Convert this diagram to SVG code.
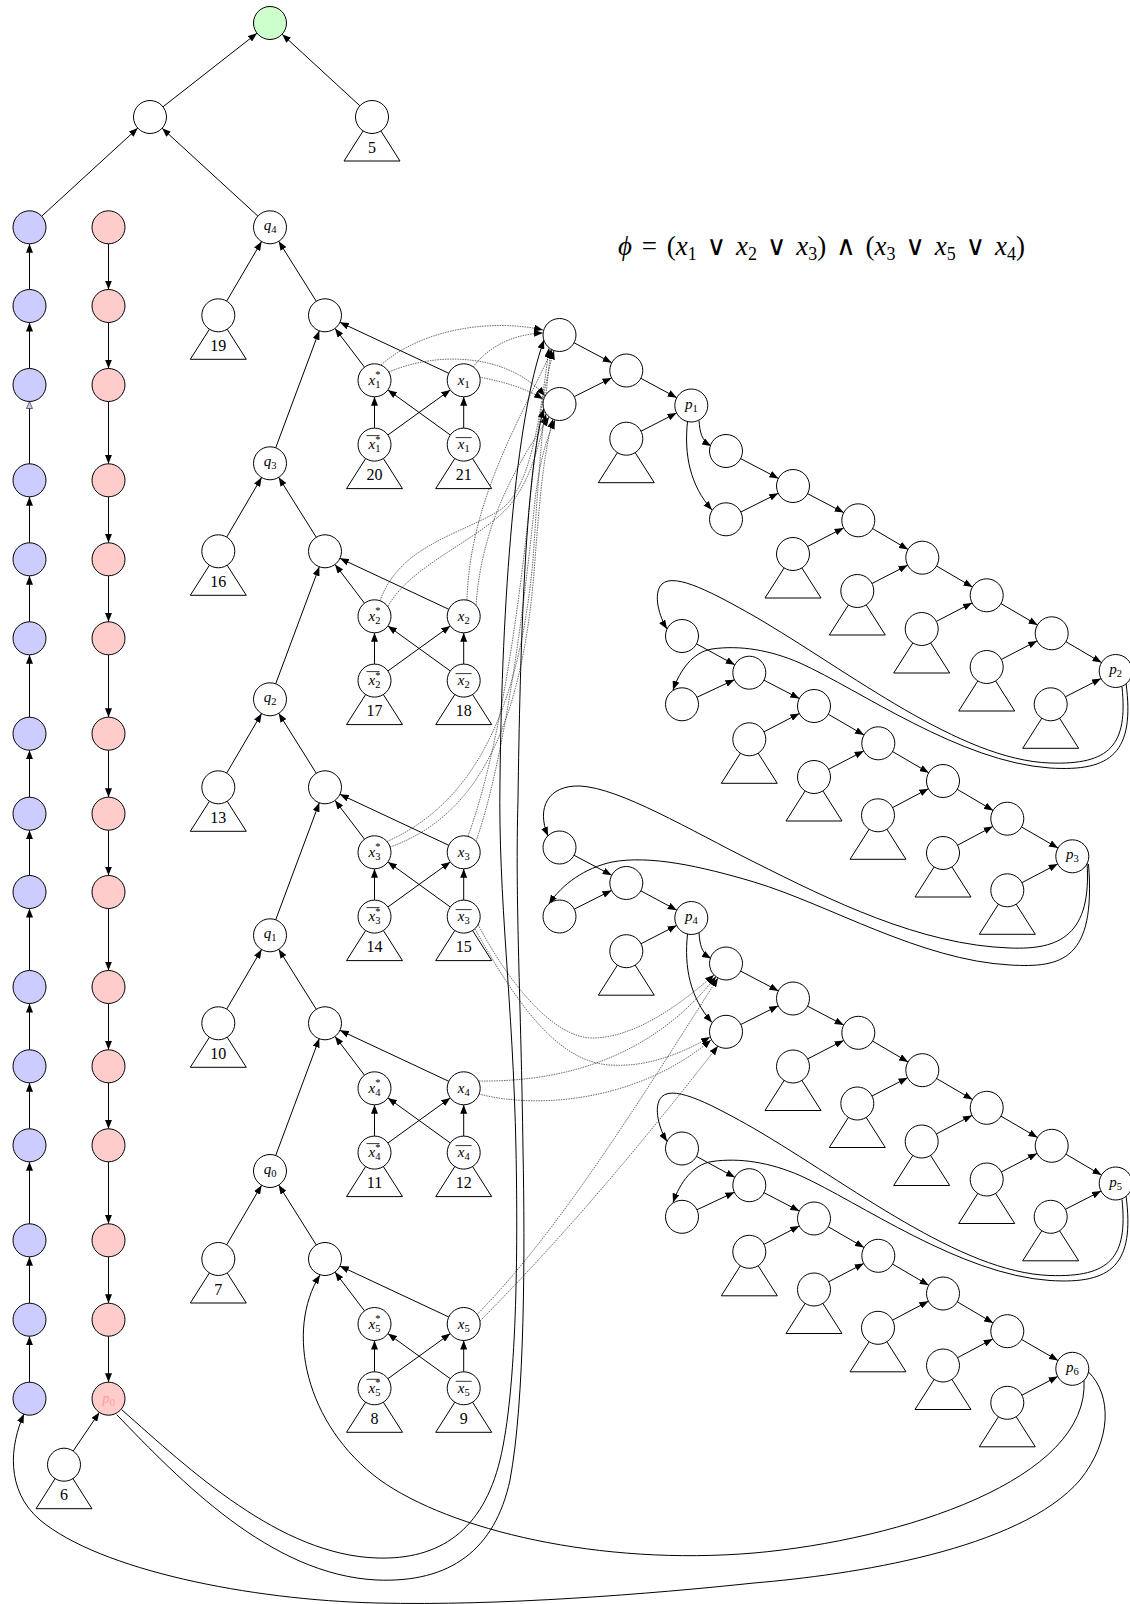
<svg xmlns="http://www.w3.org/2000/svg" width="1130" height="1604" viewBox="0 0 1130 1604">
<defs>
<marker id="ah" viewBox="0 0 9 7" refX="9" refY="3.5" markerWidth="9" markerHeight="7" markerUnits="userSpaceOnUse" orient="auto"><path d="M0,0 L9,3.5 L0,7 z" fill="#000"/></marker>
<marker id="ahb" viewBox="0 0 8 7" refX="7.5" refY="3.5" markerWidth="8" markerHeight="7" markerUnits="userSpaceOnUse" orient="auto"><path d="M0.5,0.5 L7.5,3.5 L0.5,6.5 z" fill="#ccccff" stroke="#333" stroke-width="0.7"/></marker>
<style>
.n circle{fill:#fff;stroke:#000;stroke-width:1}
.n polygon{fill:#fff;stroke:#000;stroke-width:1}
.bl circle{fill:#ccccff}
.rd circle{fill:#ffcccc}
.gr circle{fill:#ccffcc}
.e{fill:none;stroke:#000;stroke-width:1;marker-end:url(#ah)}
.d{fill:none;stroke:#444;stroke-width:0.8;stroke-dasharray:1.5 1;marker-end:url(#ah)}
text{font-family:"Liberation Serif","DejaVu Serif",serif}
.num{font-size:16px;text-anchor:middle}
.v{font-size:15px;font-style:italic;text-anchor:middle}
.s{font-size:10.5px;font-style:normal}
.ol{stroke:#000;stroke-width:0.8}
</style>
</defs>
<rect width="1130" height="1604" fill="#fff"/>
<g id="connectors">
<line class="e" x1="163" y1="106.8" x2="257" y2="33.2"/>
<line class="e" x1="359.9" y1="105.8" x2="282.1" y2="34.2"/>
<line class="e" x1="41.7" y1="216.2" x2="137.8" y2="128.1"/>
<line class="e" x1="257.9" y1="216.1" x2="162.1" y2="128.2"/>
<g id="blue-edges">
<line class="e" x1="29.5" y1="289.5" x2="29.5" y2="243.8"/>
<line class="e" x1="29.5" y1="368.5" x2="29.5" y2="322.5"/>
<line class="e" x1="29.5" y1="463.8" x2="29.5" y2="401.5" style="marker-end:url(#ahb)"/>
<line class="e" x1="29.5" y1="542.8" x2="29.5" y2="496.8"/>
<line class="e" x1="29.5" y1="621.8" x2="29.5" y2="575.8"/>
<line class="e" x1="29.5" y1="717.2" x2="29.5" y2="654.8"/>
<line class="e" x1="29.5" y1="797.2" x2="29.5" y2="750.2"/>
<line class="e" x1="29.5" y1="875.5" x2="29.5" y2="830.2"/>
<line class="e" x1="29.5" y1="970.5" x2="29.5" y2="908.5"/>
<line class="e" x1="29.5" y1="1049.8" x2="29.5" y2="1003.5"/>
<line class="e" x1="29.5" y1="1128.8" x2="29.5" y2="1082.8"/>
<line class="e" x1="29.5" y1="1223.8" x2="29.5" y2="1161.8"/>
<line class="e" x1="29.5" y1="1303.2" x2="29.5" y2="1256.8"/>
<line class="e" x1="29.5" y1="1382.2" x2="29.5" y2="1336.2"/>
</g>
<g id="red-edges">
<line class="e" x1="108.5" y1="243.8" x2="108.5" y2="289.5"/>
<line class="e" x1="108.5" y1="322.5" x2="108.5" y2="368.5"/>
<line class="e" x1="108.5" y1="401.5" x2="108.5" y2="463.8"/>
<line class="e" x1="108.5" y1="496.8" x2="108.5" y2="542.8"/>
<line class="e" x1="108.5" y1="575.8" x2="108.5" y2="621.8"/>
<line class="e" x1="108.5" y1="654.8" x2="108.5" y2="717.2"/>
<line class="e" x1="108.5" y1="750.2" x2="108.5" y2="797.2"/>
<line class="e" x1="108.5" y1="830.2" x2="108.5" y2="875.5"/>
<line class="e" x1="108.5" y1="908.5" x2="108.5" y2="970.5"/>
<line class="e" x1="108.5" y1="1003.5" x2="108.5" y2="1049.8"/>
<line class="e" x1="108.5" y1="1082.8" x2="108.5" y2="1128.8"/>
<line class="e" x1="108.5" y1="1161.8" x2="108.5" y2="1223.8"/>
<line class="e" x1="108.5" y1="1256.8" x2="108.5" y2="1303.2"/>
<line class="e" x1="108.5" y1="1336.2" x2="108.5" y2="1382.2"/>
<line class="e" x1="73.2" y1="1451" x2="99.3" y2="1412.4"/>
</g>
<g id="q-edges">
<g transform="translate(0,227.3)"><line class="e" x1="226.7" y1="73.8" x2="261.6" y2="14.2"/><line class="e" x1="316.3" y1="74" x2="278.7" y2="14"/></g>
<g transform="translate(0,463.3)"><line class="e" x1="226.7" y1="73.8" x2="261.6" y2="14.2"/><line class="e" x1="316.3" y1="74" x2="278.7" y2="14"/><line class="e" x1="275.7" y1="-15.5" x2="319.3" y2="-132.5"/></g>
<g transform="translate(0,699.3)"><line class="e" x1="226.7" y1="73.8" x2="261.6" y2="14.2"/><line class="e" x1="316.3" y1="74" x2="278.7" y2="14"/><line class="e" x1="275.7" y1="-15.5" x2="319.3" y2="-132.5"/></g>
<g transform="translate(0,935.3)"><line class="e" x1="226.7" y1="73.8" x2="261.6" y2="14.2"/><line class="e" x1="316.3" y1="74" x2="278.7" y2="14"/><line class="e" x1="275.7" y1="-15.5" x2="319.3" y2="-132.5"/></g>
<g transform="translate(0,1171)"><line class="e" x1="226.7" y1="73.8" x2="261.6" y2="14.2"/><line class="e" x1="316.3" y1="74" x2="278.7" y2="14"/><line class="e" x1="275.7" y1="-15.5" x2="319.3" y2="-132.5"/></g>
</g>
<g id="literal-edges">
<g transform="translate(0,315.3)"><line class="e" x1="364.5" y1="51.9" x2="335" y2="13.1"/><line class="e" x1="448.8" y1="58" x2="339.9" y2="7"/><line class="e" x1="374.5" y1="112.8" x2="374.5" y2="81.5"/><line class="e" x1="463.7" y1="112.8" x2="463.7" y2="81.5"/><line class="e" x1="387.9" y1="119.7" x2="450.3" y2="74.6"/><line class="e" x1="450.3" y1="119.7" x2="387.9" y2="74.6"/></g>
<g transform="translate(0,551.3)"><line class="e" x1="364.5" y1="51.9" x2="335" y2="13.1"/><line class="e" x1="448.8" y1="58" x2="339.9" y2="7"/><line class="e" x1="374.5" y1="112.8" x2="374.5" y2="81.5"/><line class="e" x1="463.7" y1="112.8" x2="463.7" y2="81.5"/><line class="e" x1="387.9" y1="119.7" x2="450.3" y2="74.6"/><line class="e" x1="450.3" y1="119.7" x2="387.9" y2="74.6"/></g>
<g transform="translate(0,787.3)"><line class="e" x1="364.5" y1="51.9" x2="335" y2="13.1"/><line class="e" x1="448.8" y1="58" x2="339.9" y2="7"/><line class="e" x1="374.5" y1="112.8" x2="374.5" y2="81.5"/><line class="e" x1="463.7" y1="112.8" x2="463.7" y2="81.5"/><line class="e" x1="387.9" y1="119.7" x2="450.3" y2="74.6"/><line class="e" x1="450.3" y1="119.7" x2="387.9" y2="74.6"/></g>
<g transform="translate(0,1023.3)"><line class="e" x1="364.5" y1="51.9" x2="335" y2="13.1"/><line class="e" x1="448.8" y1="58" x2="339.9" y2="7"/><line class="e" x1="374.5" y1="112.8" x2="374.5" y2="81.5"/><line class="e" x1="463.7" y1="112.8" x2="463.7" y2="81.5"/><line class="e" x1="387.9" y1="119.7" x2="450.3" y2="74.6"/><line class="e" x1="450.3" y1="119.7" x2="387.9" y2="74.6"/></g>
<g transform="translate(0,1259)"><line class="e" x1="364.5" y1="51.9" x2="335" y2="13.1"/><line class="e" x1="448.8" y1="58" x2="339.9" y2="7"/><line class="e" x1="374.5" y1="112.8" x2="374.5" y2="81.5"/><line class="e" x1="463.7" y1="112.8" x2="463.7" y2="81.5"/><line class="e" x1="387.9" y1="119.7" x2="450.3" y2="74.6"/><line class="e" x1="450.3" y1="119.7" x2="387.9" y2="74.6"/></g>
</g>
<g id="clause1-edges">
<path class="d" d="M381,365 C420,330 490,318 543,330"/>
<path class="d" d="M389,372 C440,350 510,355 545,396"/>
<path class="d" d="M473,367 C490,345 515,334 543,333"/>
<path class="d" d="M479,377 C505,382 525,388 543,399"/>
<path class="d" d="M380,600.8 C400,545 460,535 500,510 C530,490 540,420 549,348"/>
<path class="d" d="M388,606.5 C410,565 480,540 510,505 C530,480 538,450 546,414"/>
<path class="d" d="M467,600 C470,500 520,420 552,350"/>
<path class="d" d="M476,605 C482,520 520,460 549,417"/>
<path class="d" d="M387,841.5 C480,800 520,700 533,560 C540,450 545,400 551,349.5"/>
<path class="d" d="M390,847 C490,812 525,700 535,560 C541,480 545,450 553,419"/>
<path class="d" d="M468,836 C500,750 520,600 530,500 C537,430 545,380 554,350.5"/>
<path class="d" d="M476,841 C505,760 525,600 535,500 C540,460 546,440 555,420"/>
</g>
<g id="clause2-edges">
<path class="d" d="M478,924.5 C510,985 555,1040 595,1038 C640,1036 685,1000 714,975"/>
<path class="d" d="M475,929 C520,1010 560,1062 610,1065 C650,1068 688,1050 710,1037"/>
<path class="d" d="M479,1081 C560,1082 650,1060 716,976.5"/>
<path class="d" d="M479,1094 C540,1110 640,1100 711,1040"/>
<path class="d" d="M477,1314.5 C560,1230 640,1100 718,978"/>
<path class="d" d="M480,1321 C580,1220 660,1120 718,1046"/>
</g>
<g id="blockA-edges">
<line class="e" x1="574.1" y1="342.8" x2="611.7" y2="362.7"/>
<line class="e" x1="574.3" y1="396.6" x2="611.5" y2="377.9"/>
<line class="e" x1="640.8" y1="378.3" x2="676.8" y2="397.7"/>
<line class="e" x1="641" y1="431.2" x2="676.6" y2="413"/>
<path class="e" d="M699,420.5 C700,432 701,440 711,446"/>
<path class="e" d="M687.5,421.5 C684,455 690,485 712,510"/>
<line class="e" x1="740.6" y1="458.6" x2="778.4" y2="478.4"/>
<line class="e" x1="740.8" y1="512" x2="778.2" y2="493.3"/>
<line class="e" x1="807.6" y1="493.7" x2="843.7" y2="512.6"/>
<line class="e" x1="872.6" y1="528.6" x2="908" y2="549.4"/>
<line class="e" x1="936.5" y1="566" x2="972.5" y2="587"/>
<line class="e" x1="1000.9" y1="603.6" x2="1037.5" y2="625"/>
<line class="e" x1="1065.9" y1="641.7" x2="1101.5" y2="662.6"/>
<line class="e" x1="807.7" y1="546.4" x2="843.6" y2="527.9"/>
<line class="e" x1="872" y1="583.5" x2="907.6" y2="565.2"/>
<line class="e" x1="936.4" y1="621.4" x2="972" y2="602.9"/>
<line class="e" x1="1001.4" y1="659.4" x2="1037" y2="640.9"/>
<line class="e" x1="1065.4" y1="696.8" x2="1101" y2="678.6"/>
<path class="e" d="M1122,687 C1128,745 1110,765 1050,763 C960,760 850,672 754,616 C715,594 675,572 662,584 C652,594 660,618 667,629"/>
<path class="e" d="M1126,683 C1135,752 1112,772 1050,768 C960,762 860,690 800,663 C770,650 740,645 712,649 C693,652 680,670 673,690"/>
</g>
<g id="blockB-edges">
<line class="e" x1="696.5" y1="643.9" x2="734.8" y2="664.8"/>
<line class="e" x1="696.9" y1="697.3" x2="734.4" y2="679.7"/>
<line class="e" x1="764" y1="680.2" x2="799.3" y2="698.5"/>
<line class="e" x1="828.3" y1="714.3" x2="864" y2="735"/>
<line class="e" x1="892.6" y1="751.6" x2="928.7" y2="772.7"/>
<line class="e" x1="957.2" y1="789.3" x2="993.1" y2="810.4"/>
<line class="e" x1="1021.6" y1="827" x2="1058" y2="848"/>
<line class="e" x1="764" y1="731.8" x2="799.3" y2="713.5"/>
<line class="e" x1="828.6" y1="769.3" x2="863.7" y2="751"/>
<line class="e" x1="892.6" y1="807.6" x2="928.4" y2="788.7"/>
<line class="e" x1="957.6" y1="845.2" x2="992.7" y2="826.5"/>
<line class="e" x1="1021.9" y1="882.7" x2="1057.7" y2="863.9"/>
<path class="e" d="M1087,862 C1092,935 1060,950 1010,948 C920,945 830,900 754,862 C690,830 620,788 580,786 C548,785 536,808 548,836"/>
<path class="e" d="M1088.5,864 C1096,960 1062,968 1010,965 C920,960 830,905 754,882 C700,866 650,855 612,862 C585,868 562,884 549,904"/>
</g>
<g id="blockC-edges" transform="translate(0,512.5)">
<line class="e" x1="574.1" y1="342.8" x2="611.7" y2="362.7"/>
<line class="e" x1="574.3" y1="396.6" x2="611.5" y2="377.9"/>
<line class="e" x1="640.8" y1="378.3" x2="676.8" y2="397.7"/>
<line class="e" x1="641" y1="431.2" x2="676.6" y2="413"/>
<path class="e" d="M699,420.5 C700,432 701,440 711,446"/>
<path class="e" d="M687.5,421.5 C684,455 690,485 712,510"/>
<line class="e" x1="740.6" y1="458.6" x2="778.4" y2="478.4"/>
<line class="e" x1="740.8" y1="512" x2="778.2" y2="493.3"/>
<line class="e" x1="807.6" y1="493.7" x2="843.7" y2="512.6"/>
<line class="e" x1="872.6" y1="528.6" x2="908" y2="549.4"/>
<line class="e" x1="936.5" y1="566" x2="972.5" y2="587"/>
<line class="e" x1="1000.9" y1="603.6" x2="1037.5" y2="625"/>
<line class="e" x1="1065.9" y1="641.7" x2="1101.5" y2="662.6"/>
<line class="e" x1="807.7" y1="546.4" x2="843.6" y2="527.9"/>
<line class="e" x1="872" y1="583.5" x2="907.6" y2="565.2"/>
<line class="e" x1="936.4" y1="621.4" x2="972" y2="602.9"/>
<line class="e" x1="1001.4" y1="659.4" x2="1037" y2="640.9"/>
<line class="e" x1="1065.4" y1="696.8" x2="1101" y2="678.6"/>
<path class="e" d="M1122,687 C1128,745 1110,765 1050,763 C960,760 850,672 754,616 C715,594 675,572 662,584 C652,594 660,618 667,629"/>
<path class="e" d="M1126,683 C1135,752 1112,772 1050,768 C960,762 860,690 800,663 C770,650 740,645 712,649 C693,652 680,670 673,690"/>
</g>
<g id="blockD-edges" transform="translate(0,512.5)">
<line class="e" x1="696.5" y1="643.9" x2="734.8" y2="664.8"/>
<line class="e" x1="696.9" y1="697.3" x2="734.4" y2="679.7"/>
<line class="e" x1="764" y1="680.2" x2="799.3" y2="698.5"/>
<line class="e" x1="828.3" y1="714.3" x2="864" y2="735"/>
<line class="e" x1="892.6" y1="751.6" x2="928.7" y2="772.7"/>
<line class="e" x1="957.2" y1="789.3" x2="993.1" y2="810.4"/>
<line class="e" x1="1021.6" y1="827" x2="1058" y2="848"/>
<line class="e" x1="764" y1="731.8" x2="799.3" y2="713.5"/>
<line class="e" x1="828.6" y1="769.3" x2="863.7" y2="751"/>
<line class="e" x1="892.6" y1="807.6" x2="928.4" y2="788.7"/>
<line class="e" x1="957.6" y1="845.2" x2="992.7" y2="826.5"/>
<line class="e" x1="1021.9" y1="882.7" x2="1057.7" y2="863.9"/>
</g>
<g id="long-edges">
<path class="e" d="M1084,1380 C1090,1480 900,1540 754,1553 C600,1566 450,1530 380,1480 C305,1425 285,1330 320,1275"/>
<path class="e" d="M1088.5,1372 C1112,1395 1112,1440 1080,1480 C1020,1550 850,1575 754,1583 C650,1594 500,1606 377,1603 C250,1600 100,1570 40,1520 C5,1490 10,1445 24,1414"/>
<path class="e" d="M121.7,1409.7 C190,1470 280,1555 377,1558 C440,1560 483,1530 500,1460 C517,1390 518,1250 516,1150 C513,1000 498,900 500,780 C502,600 515,420 544,340"/>
<path class="e" d="M116.7,1414.7 C180,1480 270,1575 377,1580 C450,1583 495,1550 510,1480 C525,1400 525,1250 523,1150 C521,1000 515,900 518,800 C520,650 525,480 543.5,409"/>
</g>
</g>
<g id="nodes">
<g id="root" class="n gr" transform="translate(270,23)"><circle r="16.5"/></g>
<g id="a" class="n" transform="translate(150,117)"><circle r="16.5"/></g>
<g id="t5" class="n" transform="translate(372,117)"><polygon points="0,0 -28,44 28,44"/><circle r="16.5"/><text class="num" y="35.5">5</text></g>
<g id="b1" class="n bl" transform="translate(29.5,227.3)"><circle r="16.5"/></g>
<g id="b2" class="n bl" transform="translate(29.5,306)"><circle r="16.5"/></g>
<g id="b3" class="n bl" transform="translate(29.5,385)"><circle r="16.5"/></g>
<g id="b4" class="n bl" transform="translate(29.5,480.3)"><circle r="16.5"/></g>
<g id="b5" class="n bl" transform="translate(29.5,559.3)"><circle r="16.5"/></g>
<g id="b6" class="n bl" transform="translate(29.5,638.3)"><circle r="16.5"/></g>
<g id="b7" class="n bl" transform="translate(29.5,733.7)"><circle r="16.5"/></g>
<g id="b8" class="n bl" transform="translate(29.5,813.7)"><circle r="16.5"/></g>
<g id="b9" class="n bl" transform="translate(29.5,892)"><circle r="16.5"/></g>
<g id="b10" class="n bl" transform="translate(29.5,987)"><circle r="16.5"/></g>
<g id="b11" class="n bl" transform="translate(29.5,1066.3)"><circle r="16.5"/></g>
<g id="b12" class="n bl" transform="translate(29.5,1145.3)"><circle r="16.5"/></g>
<g id="b13" class="n bl" transform="translate(29.5,1240.3)"><circle r="16.5"/></g>
<g id="b14" class="n bl" transform="translate(29.5,1319.7)"><circle r="16.5"/></g>
<g id="b15" class="n bl" transform="translate(29.5,1398.7)"><circle r="16.5"/></g>
<g id="r1" class="n rd" transform="translate(108.5,227.3)"><circle r="16.5"/></g>
<g id="r2" class="n rd" transform="translate(108.5,306)"><circle r="16.5"/></g>
<g id="r3" class="n rd" transform="translate(108.5,385)"><circle r="16.5"/></g>
<g id="r4" class="n rd" transform="translate(108.5,480.3)"><circle r="16.5"/></g>
<g id="r5" class="n rd" transform="translate(108.5,559.3)"><circle r="16.5"/></g>
<g id="r6" class="n rd" transform="translate(108.5,638.3)"><circle r="16.5"/></g>
<g id="r7" class="n rd" transform="translate(108.5,733.7)"><circle r="16.5"/></g>
<g id="r8" class="n rd" transform="translate(108.5,813.7)"><circle r="16.5"/></g>
<g id="r9" class="n rd" transform="translate(108.5,892)"><circle r="16.5"/></g>
<g id="r10" class="n rd" transform="translate(108.5,987)"><circle r="16.5"/></g>
<g id="r11" class="n rd" transform="translate(108.5,1066.3)"><circle r="16.5"/></g>
<g id="r12" class="n rd" transform="translate(108.5,1145.3)"><circle r="16.5"/></g>
<g id="r13" class="n rd" transform="translate(108.5,1240.3)"><circle r="16.5"/></g>
<g id="r14" class="n rd" transform="translate(108.5,1319.7)"><circle r="16.5"/></g>
<g id="p0" class="n rd" transform="translate(108.5,1398.7)"><circle r="16.5"/><text class="v" y="4" fill="#ff9c9c">p<tspan class="s" dy="3">0</tspan></text></g>
<g id="t6" class="n" transform="translate(64,1464.7)"><polygon points="0,0 -28,44 28,44"/><circle r="16.5"/><text class="num" y="35.5">6</text></g>
<g id="q4" class="n" transform="translate(270,227.3)"><circle r="16.5"/><text class="v" y="3">q<tspan class="s" dy="3">4</tspan></text></g>
<g id="q3" class="n" transform="translate(270,463.3)"><circle r="16.5"/><text class="v" y="3">q<tspan class="s" dy="3">3</tspan></text></g>
<g id="q2" class="n" transform="translate(270,699.3)"><circle r="16.5"/><text class="v" y="3">q<tspan class="s" dy="3">2</tspan></text></g>
<g id="q1" class="n" transform="translate(270,935.3)"><circle r="16.5"/><text class="v" y="3">q<tspan class="s" dy="3">1</tspan></text></g>
<g id="q0" class="n" transform="translate(270,1171)"><circle r="16.5"/><text class="v" y="3">q<tspan class="s" dy="3">0</tspan></text></g>
<g id="t19" class="n" transform="translate(218.3,315.3)"><polygon points="0,0 -28,44 28,44"/><circle r="16.5"/><text class="num" y="35.5">19</text></g>
<g id="t16" class="n" transform="translate(218.3,551.3)"><polygon points="0,0 -28,44 28,44"/><circle r="16.5"/><text class="num" y="35.5">16</text></g>
<g id="t13" class="n" transform="translate(218.3,787.3)"><polygon points="0,0 -28,44 28,44"/><circle r="16.5"/><text class="num" y="35.5">13</text></g>
<g id="t10" class="n" transform="translate(218.3,1023.3)"><polygon points="0,0 -28,44 28,44"/><circle r="16.5"/><text class="num" y="35.5">10</text></g>
<g id="t7" class="n" transform="translate(218.3,1259)"><polygon points="0,0 -28,44 28,44"/><circle r="16.5"/><text class="num" y="35.5">7</text></g>
<g id="g4" class="n" transform="translate(325,315.3)"><circle r="16.5"/></g>
<g id="g3" class="n" transform="translate(325,551.3)"><circle r="16.5"/></g>
<g id="g2" class="n" transform="translate(325,787.3)"><circle r="16.5"/></g>
<g id="g1" class="n" transform="translate(325,1023.3)"><circle r="16.5"/></g>
<g id="g0" class="n" transform="translate(325,1259)"><circle r="16.5"/></g>
<g id="x1s" class="n" transform="translate(374.5,380.3)"><circle r="16.5"/><text class="v" y="4.5">x<tspan class="s" dy="3">1</tspan><tspan class="s" dx="-5.3" dy="-9.5">*</tspan></text></g>
<g id="x1" class="n" transform="translate(463.7,380.3)"><circle r="16.5"/><text class="v" y="4.5">x<tspan class="s" dy="3">1</tspan></text></g>
<g id="x1bs" class="n" transform="translate(374.5,444.6)"><polygon points="0,0 -28,44 28,44"/><circle r="16.5"/><line class="ol" x1="-8" y1="-9" x2="5" y2="-9"/><text class="v" y="4.5">x<tspan class="s" dy="3">1</tspan><tspan class="s" dx="-5.3" dy="-9.5">*</tspan></text><text class="num" y="35.5">20</text></g>
<g id="x1b" class="n" transform="translate(463.7,444.6)"><polygon points="0,0 -28,44 28,44"/><circle r="16.5"/><line class="ol" x1="-8" y1="-7" x2="8" y2="-7"/><text class="v" y="4.5">x<tspan class="s" dy="3">1</tspan></text><text class="num" y="35.5">21</text></g>
<g id="x2s" class="n" transform="translate(374.5,616.3)"><circle r="16.5"/><text class="v" y="4.5">x<tspan class="s" dy="3">2</tspan><tspan class="s" dx="-5.3" dy="-9.5">*</tspan></text></g>
<g id="x2" class="n" transform="translate(463.7,616.3)"><circle r="16.5"/><text class="v" y="4.5">x<tspan class="s" dy="3">2</tspan></text></g>
<g id="x2bs" class="n" transform="translate(374.5,680.6)"><polygon points="0,0 -28,44 28,44"/><circle r="16.5"/><line class="ol" x1="-8" y1="-9" x2="5" y2="-9"/><text class="v" y="4.5">x<tspan class="s" dy="3">2</tspan><tspan class="s" dx="-5.3" dy="-9.5">*</tspan></text><text class="num" y="35.5">17</text></g>
<g id="x2b" class="n" transform="translate(463.7,680.6)"><polygon points="0,0 -28,44 28,44"/><circle r="16.5"/><line class="ol" x1="-8" y1="-7" x2="8" y2="-7"/><text class="v" y="4.5">x<tspan class="s" dy="3">2</tspan></text><text class="num" y="35.5">18</text></g>
<g id="x3s" class="n" transform="translate(374.5,852.3)"><circle r="16.5"/><text class="v" y="4.5">x<tspan class="s" dy="3">3</tspan><tspan class="s" dx="-5.3" dy="-9.5">*</tspan></text></g>
<g id="x3" class="n" transform="translate(463.7,852.3)"><circle r="16.5"/><text class="v" y="4.5">x<tspan class="s" dy="3">3</tspan></text></g>
<g id="x3bs" class="n" transform="translate(374.5,916.6)"><polygon points="0,0 -28,44 28,44"/><circle r="16.5"/><line class="ol" x1="-8" y1="-9" x2="5" y2="-9"/><text class="v" y="4.5">x<tspan class="s" dy="3">3</tspan><tspan class="s" dx="-5.3" dy="-9.5">*</tspan></text><text class="num" y="35.5">14</text></g>
<g id="x3b" class="n" transform="translate(463.7,916.6)"><polygon points="0,0 -28,44 28,44"/><circle r="16.5"/><line class="ol" x1="-8" y1="-7" x2="8" y2="-7"/><text class="v" y="4.5">x<tspan class="s" dy="3">3</tspan></text><text class="num" y="35.5">15</text></g>
<g id="x4s" class="n" transform="translate(374.5,1088.3)"><circle r="16.5"/><text class="v" y="4.5">x<tspan class="s" dy="3">4</tspan><tspan class="s" dx="-5.3" dy="-9.5">*</tspan></text></g>
<g id="x4" class="n" transform="translate(463.7,1088.3)"><circle r="16.5"/><text class="v" y="4.5">x<tspan class="s" dy="3">4</tspan></text></g>
<g id="x4bs" class="n" transform="translate(374.5,1152.6)"><polygon points="0,0 -28,44 28,44"/><circle r="16.5"/><line class="ol" x1="-8" y1="-9" x2="5" y2="-9"/><text class="v" y="4.5">x<tspan class="s" dy="3">4</tspan><tspan class="s" dx="-5.3" dy="-9.5">*</tspan></text><text class="num" y="35.5">11</text></g>
<g id="x4b" class="n" transform="translate(463.7,1152.6)"><polygon points="0,0 -28,44 28,44"/><circle r="16.5"/><line class="ol" x1="-8" y1="-7" x2="8" y2="-7"/><text class="v" y="4.5">x<tspan class="s" dy="3">4</tspan></text><text class="num" y="35.5">12</text></g>
<g id="x5s" class="n" transform="translate(374.5,1324)"><circle r="16.5"/><text class="v" y="4.5">x<tspan class="s" dy="3">5</tspan><tspan class="s" dx="-5.3" dy="-9.5">*</tspan></text></g>
<g id="x5" class="n" transform="translate(463.7,1324)"><circle r="16.5"/><text class="v" y="4.5">x<tspan class="s" dy="3">5</tspan></text></g>
<g id="x5bs" class="n" transform="translate(374.5,1388.3)"><polygon points="0,0 -28,44 28,44"/><circle r="16.5"/><line class="ol" x1="-8" y1="-9" x2="5" y2="-9"/><text class="v" y="4.5">x<tspan class="s" dy="3">5</tspan><tspan class="s" dx="-5.3" dy="-9.5">*</tspan></text><text class="num" y="35.5">8</text></g>
<g id="x5b" class="n" transform="translate(463.7,1388.3)"><polygon points="0,0 -28,44 28,44"/><circle r="16.5"/><line class="ol" x1="-8" y1="-7" x2="8" y2="-7"/><text class="v" y="4.5">x<tspan class="s" dy="3">5</tspan></text><text class="num" y="35.5">9</text></g>
<g id="c1a" class="n" transform="translate(559.5,335)"><circle r="16.5"/></g>
<g id="c1b" class="n" transform="translate(559.5,404)"><circle r="16.5"/></g>
<g id="m1" class="n" transform="translate(626.3,370.5)"><circle r="16.5"/></g>
<g id="p1" class="n" transform="translate(691.3,405.5)"><circle r="16.5"/><text class="v" y="3">p<tspan class="s" dy="3">1</tspan></text></g>
<g id="tp1" class="n" transform="translate(626.3,438.7)"><polygon points="0,0 -28,44 28,44"/><circle r="16.5"/></g>
<g id="n1a" class="n" transform="translate(726,451)"><circle r="16.5"/></g>
<g id="n1b" class="n" transform="translate(726,519.3)"><circle r="16.5"/></g>
<g id="s1" class="n" transform="translate(793,486)"><circle r="16.5"/></g>
<g id="s2" class="n" transform="translate(858.3,520.3)"><circle r="16.5"/></g>
<g id="s3" class="n" transform="translate(922.3,557.7)"><circle r="16.5"/></g>
<g id="s4" class="n" transform="translate(986.7,595.3)"><circle r="16.5"/></g>
<g id="s5" class="n" transform="translate(1051.7,633.3)"><circle r="16.5"/></g>
<g id="p2" class="n" transform="translate(1115.7,671)"><circle r="16.5"/><text class="v" y="3">p<tspan class="s" dy="3">2</tspan></text></g>
<g id="ta1" class="n" transform="translate(793,554)"><polygon points="0,0 -28,44 28,44"/><circle r="16.5"/></g>
<g id="ta2" class="n" transform="translate(857.3,591)"><polygon points="0,0 -28,44 28,44"/><circle r="16.5"/></g>
<g id="ta3" class="n" transform="translate(921.7,629)"><polygon points="0,0 -28,44 28,44"/><circle r="16.5"/></g>
<g id="ta4" class="n" transform="translate(986.7,667)"><polygon points="0,0 -28,44 28,44"/><circle r="16.5"/></g>
<g id="ta5" class="n" transform="translate(1050.7,704.3)"><polygon points="0,0 -28,44 28,44"/><circle r="16.5"/></g>
<g id="r2a" class="n" transform="translate(682,636)"><circle r="16.5"/></g>
<g id="r2b" class="n" transform="translate(682,704.3)"><circle r="16.5"/></g>
<g id="u1" class="n" transform="translate(749.3,672.7)"><circle r="16.5"/></g>
<g id="u2" class="n" transform="translate(814,706)"><circle r="16.5"/></g>
<g id="u3" class="n" transform="translate(878.3,743.3)"><circle r="16.5"/></g>
<g id="u4" class="n" transform="translate(943,781)"><circle r="16.5"/></g>
<g id="u5" class="n" transform="translate(1007.3,818.7)"><circle r="16.5"/></g>
<g id="p3" class="n" transform="translate(1072.3,856.3)"><circle r="16.5"/><text class="v" y="3">p<tspan class="s" dy="3">3</tspan></text></g>
<g id="tb1" class="n" transform="translate(749.3,739.3)"><polygon points="0,0 -28,44 28,44"/><circle r="16.5"/></g>
<g id="tb2" class="n" transform="translate(814,777)"><polygon points="0,0 -28,44 28,44"/><circle r="16.5"/></g>
<g id="tb3" class="n" transform="translate(878,815.3)"><polygon points="0,0 -28,44 28,44"/><circle r="16.5"/></g>
<g id="tb4" class="n" transform="translate(943,853)"><polygon points="0,0 -28,44 28,44"/><circle r="16.5"/></g>
<g id="tb5" class="n" transform="translate(1007.3,890.3)"><polygon points="0,0 -28,44 28,44"/><circle r="16.5"/></g>
<g id="c3a" class="n" transform="translate(559.5,847.5)"><circle r="16.5"/></g>
<g id="c3b" class="n" transform="translate(559.5,916.5)"><circle r="16.5"/></g>
<g id="m4" class="n" transform="translate(626.3,883)"><circle r="16.5"/></g>
<g id="p4" class="n" transform="translate(691.3,918)"><circle r="16.5"/><text class="v" y="3">p<tspan class="s" dy="3">4</tspan></text></g>
<g id="tp4" class="n" transform="translate(626.3,951.2)"><polygon points="0,0 -28,44 28,44"/><circle r="16.5"/></g>
<g id="n4a" class="n" transform="translate(726,963.5)"><circle r="16.5"/></g>
<g id="n4b" class="n" transform="translate(726,1031.8)"><circle r="16.5"/></g>
<g id="v1" class="n" transform="translate(793,998.5)"><circle r="16.5"/></g>
<g id="v2" class="n" transform="translate(858.3,1032.8)"><circle r="16.5"/></g>
<g id="v3" class="n" transform="translate(922.3,1070.2)"><circle r="16.5"/></g>
<g id="v4" class="n" transform="translate(986.7,1107.8)"><circle r="16.5"/></g>
<g id="v5" class="n" transform="translate(1051.7,1145.8)"><circle r="16.5"/></g>
<g id="p5" class="n" transform="translate(1115.7,1183.5)"><circle r="16.5"/><text class="v" y="3">p<tspan class="s" dy="3">5</tspan></text></g>
<g id="tc1" class="n" transform="translate(793,1066.5)"><polygon points="0,0 -28,44 28,44"/><circle r="16.5"/></g>
<g id="tc2" class="n" transform="translate(857.3,1103.5)"><polygon points="0,0 -28,44 28,44"/><circle r="16.5"/></g>
<g id="tc3" class="n" transform="translate(921.7,1141.5)"><polygon points="0,0 -28,44 28,44"/><circle r="16.5"/></g>
<g id="tc4" class="n" transform="translate(986.7,1179.5)"><polygon points="0,0 -28,44 28,44"/><circle r="16.5"/></g>
<g id="tc5" class="n" transform="translate(1050.7,1216.8)"><polygon points="0,0 -28,44 28,44"/><circle r="16.5"/></g>
<g id="r5a" class="n" transform="translate(682,1148.5)"><circle r="16.5"/></g>
<g id="r5b" class="n" transform="translate(682,1216.8)"><circle r="16.5"/></g>
<g id="w1" class="n" transform="translate(749.3,1185.2)"><circle r="16.5"/></g>
<g id="w2" class="n" transform="translate(814,1218.5)"><circle r="16.5"/></g>
<g id="w3" class="n" transform="translate(878.3,1255.8)"><circle r="16.5"/></g>
<g id="w4" class="n" transform="translate(943,1293.5)"><circle r="16.5"/></g>
<g id="w5" class="n" transform="translate(1007.3,1331.2)"><circle r="16.5"/></g>
<g id="p6" class="n" transform="translate(1072.3,1368.8)"><circle r="16.5"/><text class="v" y="3">p<tspan class="s" dy="3">6</tspan></text></g>
<g id="td1" class="n" transform="translate(749.3,1251.8)"><polygon points="0,0 -28,44 28,44"/><circle r="16.5"/></g>
<g id="td2" class="n" transform="translate(814,1289.5)"><polygon points="0,0 -28,44 28,44"/><circle r="16.5"/></g>
<g id="td3" class="n" transform="translate(878,1327.8)"><polygon points="0,0 -28,44 28,44"/><circle r="16.5"/></g>
<g id="td4" class="n" transform="translate(943,1365.5)"><polygon points="0,0 -28,44 28,44"/><circle r="16.5"/></g>
<g id="td5" class="n" transform="translate(1007.3,1402.8)"><polygon points="0,0 -28,44 28,44"/><circle r="16.5"/></g>
</g>
<text id="formula" x="618" y="255" style="font-size:27px;word-spacing:3px"><tspan font-style="italic">ϕ</tspan> = (<tspan font-style="italic">x</tspan><tspan font-size="18" dy="5">1</tspan><tspan dy="-5"> ∨ </tspan><tspan font-style="italic">x</tspan><tspan font-size="18" dy="5">2</tspan><tspan dy="-5"> ∨ </tspan><tspan font-style="italic">x</tspan><tspan font-size="18" dy="5">3</tspan><tspan dy="-5">) ∧ (</tspan><tspan font-style="italic">x</tspan><tspan font-size="18" dy="5">3</tspan><tspan dy="-5"> ∨ </tspan><tspan font-style="italic">x</tspan><tspan font-size="18" dy="5">5</tspan><tspan dy="-5"> ∨ </tspan><tspan font-style="italic">x</tspan><tspan font-size="18" dy="5">4</tspan><tspan dy="-5">)</tspan></text>
</svg>
